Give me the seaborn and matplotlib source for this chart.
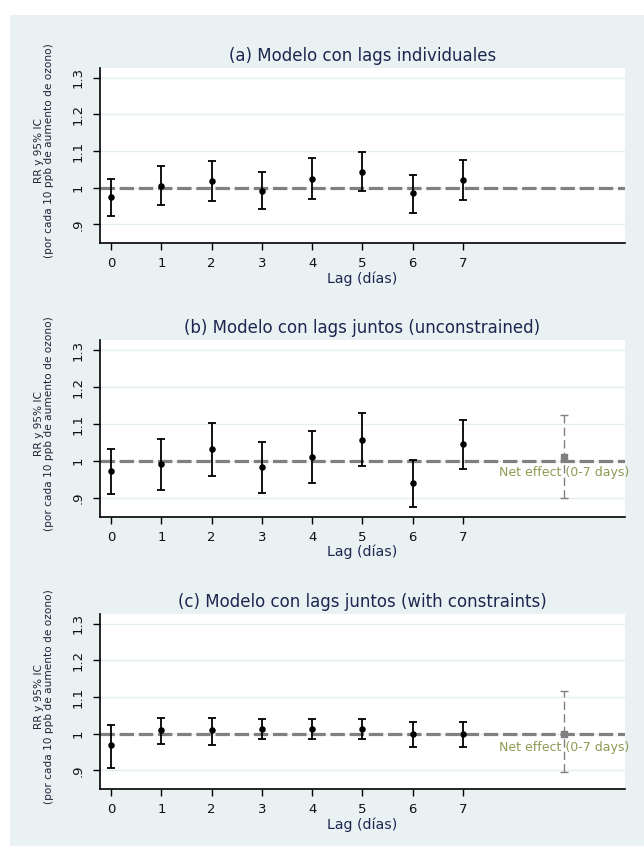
import matplotlib
matplotlib.use("Agg")
import matplotlib.pyplot as plt
import seaborn as sns
import pandas as pd
from matplotlib.patches import Rectangle

# ---- data ----
lags = [0, 1, 2, 3, 4, 5, 6, 7]
titles = ["(a) Modelo con lags individuales",
          "(b) Modelo con lags juntos (unconstrained)",
          "(c) Modelo con lags juntos (with constraints)"]
a_rr = [0.974, 1.006, 1.018, 0.992, 1.025, 1.044, 0.985, 1.022]
a_lo = [0.923, 0.953, 0.964, 0.941, 0.970, 0.990, 0.931, 0.967]
a_hi = [1.023, 1.060, 1.072, 1.042, 1.080, 1.098, 1.035, 1.075]
b_rr = [0.972, 0.992, 1.032, 0.984, 1.010, 1.058, 0.940, 1.047]
b_lo = [0.912, 0.923, 0.960, 0.915, 0.941, 0.986, 0.875, 0.978]
b_hi = [1.033, 1.059, 1.104, 1.052, 1.081, 1.129, 1.003, 1.111]
c_rr = [0.969, 1.009, 1.009, 1.014, 1.014, 1.013, 0.999, 0.998]
c_lo = [0.907, 0.971, 0.970, 0.985, 0.985, 0.986, 0.963, 0.963]
c_hi = [1.025, 1.044, 1.044, 1.041, 1.041, 1.041, 1.033, 1.033]
net_x = 9
net_b = [1.010, 0.900, 1.125]   # rr, lo, hi
net_c = [1.000, 0.896, 1.118]
net_label = "Net effect (0-7 days)"
yticks = [0.9, 1.0, 1.1, 1.2, 1.3]
ytick_labels = [".9", "1", "1.1", "1.2", "1.3"]
xlabel = "Lag (días)"
ylabel = "RR y 95% IC\n(por cada 10 ppb de aumento de ozono)"

sns.set_theme(style="white")
plt.rcParams['font.family'] = ['DejaVu Sans']

BG = "#e9f1f3"
W, H = 644, 846
fig = plt.figure(figsize=(W / 100, H / 100), dpi=100)
fig.patch.set_facecolor(BG)
fig.patches.append(Rectangle((0, 1 - 15 / H), 1, 15 / H, transform=fig.transFigure,
                             facecolor="white", edgecolor="none", zorder=-10))
fig.patches.append(Rectangle((0, 0), 10 / W, 1, transform=fig.transFigure,
                             facecolor="white", edgecolor="none", zorder=-10))

panels = [(a_rr, a_lo, a_hi, None, 68, 243),
          (b_rr, b_lo, b_hi, net_b, 340, 517),
          (c_rr, c_lo, c_hi, net_c, 614, 789)]

title_col = "#1c2750"
for i, (rr, lo, hi, net, top, bot) in enumerate(panels):
    left, right = 100, 625
    ax = fig.add_axes([left / W, 1 - bot / H, (right - left) / W, (bot - top) / H])
    ax.set_facecolor("white")
    df = pd.DataFrame({"lag": lags, "rr": rr, "lo": lo, "hi": hi})
    for y in yticks:
        ax.axhline(y, color="#e3edf2", lw=1.0, zorder=0)
    ax.axhline(1.0, color="#808080", lw=2.3, linestyle=(0, (4.5, 1.5)), zorder=1)
    ax.errorbar(df["lag"], df["rr"],
                yerr=[df["rr"] - df["lo"], df["hi"] - df["rr"]],
                fmt="none", ecolor="black", elinewidth=1.3, capsize=3,
                capthick=1.3, zorder=3)
    sns.scatterplot(data=df, x="lag", y="rr", ax=ax, color="black", s=22,
                    edgecolor="black", linewidth=0, zorder=4, legend=False)
    if net is not None:
        n_rr, n_lo, n_hi = net
        eb = ax.errorbar([net_x], [n_rr], yerr=[[n_rr - n_lo], [n_hi - n_rr]],
                         fmt="none", ecolor="#808080", elinewidth=1.0, capsize=3,
                         capthick=1.0, zorder=3)
        eb[2][0].set_linestyle((0, (6, 3)))
        ax.scatter([net_x], [n_rr], marker="s", s=20, color="#808080", zorder=4)
        y_txt = n_rr - 0.042 if i == 1 else n_rr - 0.038
        ax.text(net_x, y_txt, net_label, ha="center", va="center",
                fontsize=9, color="#8c9a52", zorder=5)
    ax.set_xlim(-0.22, 10.22)
    ax.set_ylim(0.849, 1.327)
    ax.set_xticks(lags)
    ax.set_xticklabels([str(l) for l in lags])
    ax.set_yticks(yticks)
    ax.set_yticklabels(ytick_labels, rotation=90, va="center")
    ax.tick_params(axis="both", direction="out", length=5, width=1.0, color="black",
                   labelsize=9.5, labelcolor="#111111", left=True, bottom=True)
    ax.tick_params(axis="y", pad=6)
    ax.tick_params(axis="x", pad=5)
    for s in ["top", "right"]:
        ax.spines[s].set_visible(False)
    for s in ["left", "bottom"]:
        ax.spines[s].set_color("black")
        ax.spines[s].set_linewidth(1.2)
    ax.set_title(titles[i], fontsize=12, color=title_col, pad=5)
    ax.set_xlabel(xlabel, fontsize=10.2, color=title_col)
    ax.xaxis.set_label_coords(0.5, -0.16 if i != 1 else -0.158)
    ax.set_ylabel(ylabel, fontsize=7.6, color="#222233", linespacing=0.95)
    ax.yaxis.set_label_coords(-0.088, 0.53)

fig.savefig("out.png", dpi=100, facecolor=fig.get_facecolor())
